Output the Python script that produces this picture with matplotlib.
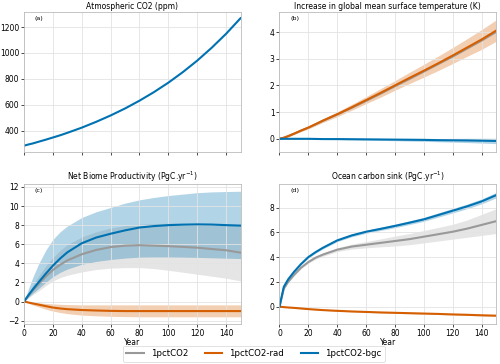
import matplotlib
matplotlib.use("Agg")
import matplotlib.pyplot as plt
import numpy as np

# %%
years = [0, 3, 6, 10, 15, 20, 25, 30, 40, 50, 60, 70, 80, 90, 100, 110, 120, 130, 140, 150]

co2 = [285, 294, 302, 315, 331, 348, 365, 384, 424, 469, 518, 572, 632, 698, 771, 852, 941, 1040, 1148, 1268]

# temperature (K)
tas_rad = [0, 0.04, 0.1, 0.19, 0.31, 0.42, 0.55, 0.68, 0.92, 1.18, 1.45, 1.72, 2.0, 2.28, 2.55, 2.83, 3.12, 3.42, 3.72, 4.05]
tas_rad_sd = [0.02, 0.02, 0.03, 0.03, 0.04, 0.05, 0.06, 0.07, 0.09, 0.11, 0.13, 0.16, 0.18, 0.21, 0.24, 0.27, 0.3, 0.33, 0.37, 0.4]
tas_ctl = [0, 0.04, 0.1, 0.19, 0.31, 0.42, 0.54, 0.67, 0.91, 1.16, 1.42, 1.69, 1.97, 2.24, 2.52, 2.8, 3.08, 3.38, 3.68, 4.0]
tas_bgc = [0, 0, 0, 0, 0, 0, -0.005, -0.01, -0.01, -0.015, -0.02, -0.025, -0.03, -0.035, -0.04, -0.05, -0.055, -0.06, -0.07, -0.08]
tas_bgc_sd = [0.01, 0.01, 0.01, 0.01, 0.01, 0.01, 0.015, 0.015, 0.02, 0.025, 0.03, 0.035, 0.04, 0.05, 0.055, 0.06, 0.07, 0.08, 0.09, 0.1]

# net biome productivity (PgC/yr)
nbp_ctl = [0, 0.6, 1.15, 1.8, 2.6, 3.3, 3.85, 4.3, 4.95, 5.4, 5.7, 5.85, 5.9, 5.85, 5.8, 5.72, 5.64, 5.5, 5.37, 5.12]
nbp_ctl_hi = [0, 0.9, 1.7, 2.65, 3.7, 4.6, 5.35, 5.95, 6.75, 7.3, 7.7, 7.95, 8.1, 8.15, 8.2, 8.2, 8.15, 8.1, 8.05, 8.0]
nbp_ctl_lo = [0, 0.35, 0.7, 1.1, 1.65, 2.15, 2.5, 2.75, 3.1, 3.35, 3.5, 3.55, 3.55, 3.45, 3.27, 3.07, 2.86, 2.65, 2.44, 2.16]
nbp_bgc = [0, 0.65, 1.25, 2.0, 2.9, 3.75, 4.5, 5.15, 6.1, 6.7, 7.1, 7.45, 7.75, 7.9, 8.0, 8.05, 8.08, 8.06, 8.0, 7.95]
nbp_bgc_hi = [0, 1.3, 2.5, 3.9, 5.35, 6.5, 7.3, 7.9, 8.8, 9.4, 9.85, 10.3, 10.65, 10.9, 11.1, 11.25, 11.4, 11.48, 11.52, 11.55]
nbp_bgc_lo = [0, 0.45, 0.85, 1.35, 2.0, 2.6, 3.05, 3.4, 3.9, 4.2, 4.4, 4.55, 4.65, 4.67, 4.67, 4.65, 4.62, 4.58, 4.54, 4.5]
nbp_rad = [0, -0.1, -0.2, -0.32, -0.48, -0.63, -0.73, -0.8, -0.89, -0.94, -0.98, -1.0, -1.0, -1.0, -1.0, -1.0, -1.0, -1.0, -1.0, -1.0]
nbp_rad_hi = [0, -0.04, -0.08, -0.13, -0.2, -0.25, -0.29, -0.32, -0.35, -0.35, -0.35, -0.35, -0.35, -0.35, -0.35, -0.35, -0.35, -0.35, -0.35, -0.35]
nbp_rad_lo = [0, -0.17, -0.35, -0.55, -0.8, -1.0, -1.15, -1.27, -1.42, -1.5, -1.55, -1.58, -1.6, -1.6, -1.6, -1.6, -1.6, -1.6, -1.6, -1.6]

# ocean carbon sink (PgC/yr)
ocn_ctl = [0, 1.45, 2.0, 2.55, 3.15, 3.6, 3.95, 4.2, 4.6, 4.85, 5.0, 5.15, 5.3, 5.45, 5.65, 5.85, 6.05, 6.3, 6.6, 6.9]
ocn_ctl_sd = [0, 0.03, 0.05, 0.06, 0.08, 0.1, 0.12, 0.13, 0.15, 0.2, 0.25, 0.32, 0.4, 0.45, 0.5, 0.55, 0.6, 0.7, 0.85, 1.0]
ocn_bgc = [0, 1.6, 2.2, 2.8, 3.45, 4.0, 4.4, 4.75, 5.35, 5.75, 6.05, 6.28, 6.52, 6.78, 7.05, 7.4, 7.75, 8.1, 8.5, 9.0]
ocn_bgc_sd = [0, 0.03, 0.04, 0.05, 0.06, 0.07, 0.08, 0.09, 0.1, 0.11, 0.12, 0.13, 0.14, 0.15, 0.16, 0.17, 0.18, 0.19, 0.2, 0.22]
ocn_rad = [0, -0.04, -0.07, -0.1, -0.15, -0.2, -0.24, -0.28, -0.34, -0.39, -0.43, -0.47, -0.5, -0.53, -0.56, -0.59, -0.63, -0.66, -0.7, -0.73]
ocn_rad_sd = [0, 0.01, 0.01, 0.01, 0.02, 0.02, 0.02, 0.02, 0.03, 0.03, 0.03, 0.03, 0.04, 0.04, 0.04, 0.04, 0.04, 0.05, 0.05, 0.05]

c_ctl = "#999999"
c_rad = "#d55e00"
c_bgc = "#0072b2"
fs = 5.5

# %%
def style(ax, title, label, ylim, yticks, xlab=False):
    ax.set_title(title, fontsize=fs, pad=2)
    ax.text(0.05, 0.97, label, transform=ax.transAxes, fontsize=4.6, va="top")
    ax.set_xlim(0, 150)
    ax.set_ylim(*ylim)
    ax.set_xticks(np.arange(0, 150, 20))
    ax.set_yticks(yticks)
    ax.grid(True, color="#e3e3e3", linewidth=0.6)
    ax.tick_params(labelsize=fs, length=2, width=0.5, pad=1.5)
    for s in ax.spines.values():
        s.set_color("#bbbbbb")
        s.set_linewidth(0.6)
    if xlab:
        ax.set_xlabel("Year", fontsize=fs, labelpad=0)
    else:
        ax.tick_params(labelbottom=False)


def band(ax, x, lo, hi, col, a=0.3):
    ax.fill_between(x, lo, hi, color=col, alpha=a, linewidth=0)


fig, axs = plt.subplots(2, 2, figsize=(5.0, 3.64), dpi=100)
fig.subplots_adjust(left=0.048, right=0.992, top=0.967, bottom=0.11, wspace=0.18, hspace=0.23)
x = np.array(years)

ax = axs[0, 0]
ax.plot(x, co2, color=c_bgc, lw=1.5)
style(ax, "Atmospheric CO2 (ppm)", "(a)", (237, 1316), [400, 600, 800, 1000, 1200])

ax = axs[0, 1]
t_rad = np.array(tas_rad); t_rsd = np.array(tas_rad_sd)
t_bgc = np.array(tas_bgc); t_bsd = np.array(tas_bgc_sd)
band(ax, x, t_rad - t_rsd, t_rad + t_rsd, c_rad)
band(ax, x, t_bgc - t_bsd, t_bgc + t_bsd, c_bgc)
ax.plot(x, tas_ctl, color=c_ctl, lw=1.5)
ax.plot(x, tas_rad, color=c_rad, lw=1.5)
ax.plot(x, tas_bgc, color=c_bgc, lw=1.5)
style(ax, "Increase in global mean surface temperature (K)", "(b)", (-0.49, 4.75), [0, 1, 2, 3, 4])

ax = axs[1, 0]
band(ax, x, nbp_ctl_lo, nbp_ctl_hi, c_ctl, 0.25)
band(ax, x, nbp_rad_lo, nbp_rad_hi, c_rad)
band(ax, x, nbp_bgc_lo, nbp_bgc_hi, c_bgc)
ax.plot(x, nbp_ctl, color=c_ctl, lw=1.5, label="1pctCO2")
ax.plot(x, nbp_rad, color=c_rad, lw=1.5, label="1pctCO2-rad")
ax.plot(x, nbp_bgc, color=c_bgc, lw=1.5, label="1pctCO2-bgc")
style(ax, r"Net Biome Productivity (PgC.yr$^{-1}$)", "(c)", (-2.35, 12.3), np.arange(-2, 13, 2), xlab=True)

ax = axs[1, 1]
o_ctl = np.array(ocn_ctl); o_csd = np.array(ocn_ctl_sd)
o_bgc = np.array(ocn_bgc); o_bsd = np.array(ocn_bgc_sd)
o_rad = np.array(ocn_rad); o_rsd = np.array(ocn_rad_sd)
band(ax, x, o_ctl - o_csd, o_ctl + o_csd, c_ctl, 0.25)
band(ax, x, o_rad - o_rsd, o_rad + o_rsd, c_rad)
band(ax, x, o_bgc - o_bsd, o_bgc + o_bsd, c_bgc)
ax.plot(x, ocn_ctl, color=c_ctl, lw=1.5)
ax.plot(x, ocn_rad, color=c_rad, lw=1.5)
ax.plot(x, ocn_bgc, color=c_bgc, lw=1.5)
style(ax, r"Ocean carbon sink (PgC.yr$^{-1}$)", "(d)", (-1.4, 9.9), [0, 2, 4, 6, 8], xlab=True)

handles, labels = axs[1, 0].get_legend_handles_labels()
leg = fig.legend(handles, labels, loc="lower center", ncol=3, fontsize=6.2,
                 bbox_to_anchor=(0.508, -0.005), frameon=True)
leg.get_frame().set_linewidth(0.5)

plt.savefig("out.png", dpi=100)
